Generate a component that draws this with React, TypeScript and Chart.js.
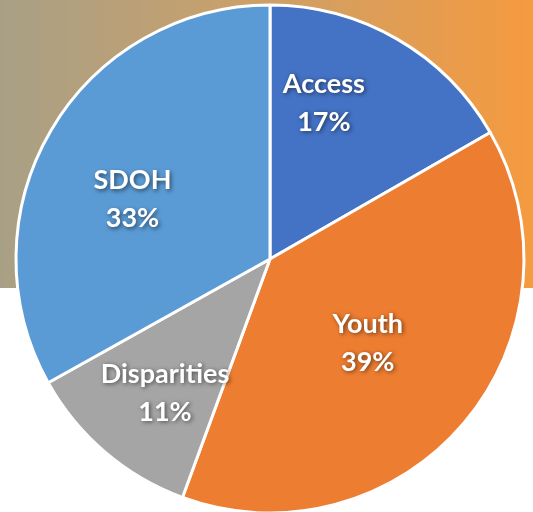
import React, { useEffect, useRef } from "react";
import { Chart, registerables } from "chart.js";

Chart.register(...registerables);

const categories = ["Access", "Youth", "Disparities", "SDOH"];
const shares = [16.7, 38.9, 11.3, 33.1];
const sliceColors = ["#4472C4", "#ED7D31", "#A5A5A5", "#5B9BD5"];
// label placement: fraction of radius and angle tweak (degrees) per slice
const labelRadiusFrac = [0.65, 0.508, 0.67, 0.59];
const labelAngleShift = [-11, 0.6, -2.4, -7];

const bgPlugin = {
  id: "bgBand",
  beforeDraw(chart: any) {
    const ctx = chart.ctx;
    const w = chart.width;
    const g = ctx.createLinearGradient(0, 0, 533, 0);
    g.addColorStop(0, "#A8A086");
    g.addColorStop(0.5, "#CDA068");
    g.addColorStop(1, "#F59A3F");
    ctx.save();
    ctx.fillStyle = "#ffffff";
    ctx.fillRect(0, 0, w, chart.height);
    ctx.fillStyle = g;
    ctx.fillRect(0, 0, w, 288);
    ctx.restore();
  },
};

const labelPlugin = {
  id: "sliceLabels",
  afterDatasetsDraw(chart: any) {
    const ctx = chart.ctx;
    const meta = chart.getDatasetMeta(0);
    const total = shares.reduce((a, b) => a + b, 0);
    ctx.save();
    ctx.font = "bold 27px Lato";
    ctx.fillStyle = "#ffffff";
    ctx.textAlign = "center";
    ctx.textBaseline = "middle";
    ctx.shadowColor = "rgba(0,0,0,0.55)";
    ctx.shadowBlur = 4;
    ctx.shadowOffsetX = 1.5;
    ctx.shadowOffsetY = 1.5;
    meta.data.forEach((arc: any, i: number) => {
      const p = arc.getProps(["x", "y", "startAngle", "endAngle", "outerRadius"], true);
      const mid = (p.startAngle + p.endAngle) / 2 + (labelAngleShift[i] * Math.PI) / 180;
      const r = p.outerRadius * labelRadiusFrac[i];
      const cx = p.x + Math.cos(mid) * r;
      const cy = p.y + Math.sin(mid) * r;
      const pct = Math.round((shares[i] / total) * 100) + "%";
      ctx.fillText(categories[i], cx, cy - 19);
      ctx.fillText(pct, cx, cy + 19);
    });
    ctx.restore();
  },
};

export default function App() {
  const ref = useRef<HTMLCanvasElement>(null);
  useEffect(() => {
    document.body.style.margin = "0";
    const chart = new Chart(ref.current!, {
      type: "pie",
      data: {
        labels: categories,
        datasets: [
          {
            data: shares,
            backgroundColor: sliceColors,
            borderColor: "#ffffff",
            borderWidth: 3,
          },
        ],
      },
      options: {
        animation: false,
        responsive: false,
        radius: 254,
        layout: { padding: 0 },
        plugins: {
          legend: { display: false },
          tooltip: { enabled: false },
        },
      },
      plugins: [bgPlugin, labelPlugin],
    });
    return () => chart.destroy();
  }, []);
  return (
    <div style={{ position: "fixed", left: 0, top: 0, width: 533, height: 512, overflow: "hidden", background: "#fff" }}>
      <canvas ref={ref} width={540} height={518} style={{ display: "block", width: 540, height: 518 }} />
    </div>
  );
}
